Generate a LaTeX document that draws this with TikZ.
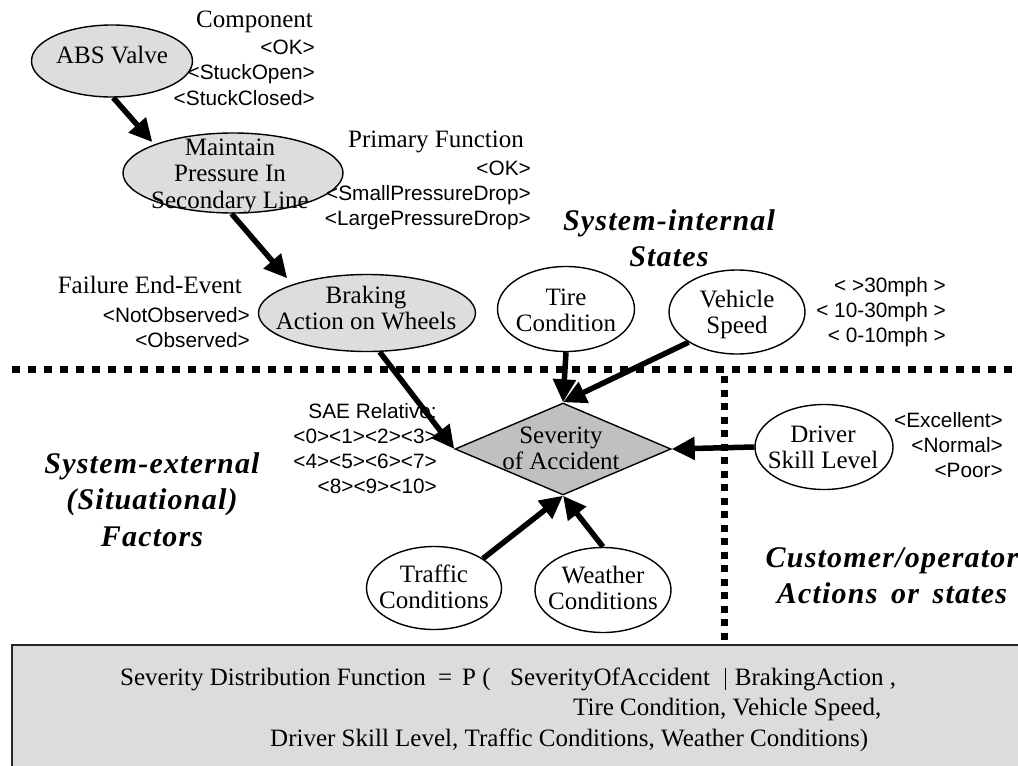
\documentclass[tikz,border=0pt]{standalone}
\usepackage{fontspec}
\setmainfont{Liberation Serif}
\setsansfont{Liberation Sans}
\newfontfamily\regionfont[LetterSpace=4]{Liberation Serif}
\usetikzlibrary{shapes.geometric,arrows.meta}

% multi-line text whose baseline is that of its first line
\newcommand{\linesblock}[2][c]{\begin{tabular}[t]{@{}#1@{}}#2\end{tabular}}

\definecolor{nodegray}{HTML}{DDDDDD}
\definecolor{diagray}{HTML}{C0C0C0}
\definecolor{boxgray}{HTML}{DCDCDC}

\tikzset{
  ell/.style={ellipse, draw, line width=1.4pt, inner sep=0pt},
  grayell/.style={ell, fill=nodegray},
  lbl/.style={font=\fontsize{25}{26.5}\selectfont, inner sep=0pt, anchor=base},
  hd/.style={font=\fontsize{25}{27}\selectfont, inner sep=0pt, anchor=base east},
  st/.style={font=\fontsize{20.8}{25.3}\selectfont\sffamily, inner sep=0pt, anchor=base east},
  region/.style={font=\fontsize{30}{36.5}\selectfont\regionfont\bfseries\itshape, inner sep=0pt, anchor=base},
  arr/.style={line width=5.5pt, -{Triangle[length=23pt,width=22pt]}},
  hsep/.style={line width=7pt, dash pattern=on 7.5pt off 8.5pt},
  vsep/.style={line width=7pt, dash pattern=on 7pt off 6.5pt},
}

\begin{document}
\begin{tikzpicture}[x=1pt,y=-1pt]
\useasboundingbox (0,0) rectangle (1018,766);

% bottom formula box
\fill[boxgray] (12,645) rectangle (1018,766);
\draw[line width=1.5pt, black!85] (1018,645) -- (12,645) -- (12,766);
\node[lbl, anchor=base west] (sdf1) at (120,685) {%
  \makebox[318pt][l]{Severity Distribution Function}%
  \makebox[24pt][l]{=}%
  \makebox[48pt][l]{P (}%
  \makebox[215pt][l]{SeverityOfAccident}%
  \rule[-5pt]{1.3pt}{22pt}\hspace{8.5pt}BrakingAction ,};
\node[lbl, anchor=base west] (sdf2) at (573,715) {Tire Condition, Vehicle Speed,};
\node[lbl, anchor=base west] (sdf3) at (270,746) {Driver Skill Level, Traffic Conditions, Weather Conditions)};

% region separators
\coordinate (hl) at (12,369);
\coordinate (hr) at (1018,369);
\coordinate (vt) at (724,376);
\coordinate (vb) at (724,645);
\draw[hsep] (hl) -- (hr);
\draw[vsep] (vt) -- (vb);

% region titles
\node[region] (intR) at (669,230) {\linesblock{System-internal\\States}};
\node[region] (extR) at (152,473) {\linesblock{System-external\\(Situational)\\Factors}};
\node[region] (custR) at (892,567) {\linesblock{Customer/operator\\Actions\hspace{5pt} or\hspace{5pt} states}};

% nodes
\node[grayell, minimum width=161pt, minimum height=72pt] (abs) at (112,61) {};
\node[grayell, minimum width=220pt, minimum height=80pt] (maint) at (233,173) {};
\node[grayell, minimum width=217pt, minimum height=77pt] (brak) at (367,313) {};
\node[ell, minimum width=137pt, minimum height=85pt] (tire) at (566,309) {};
\node[ell, minimum width=136pt, minimum height=84pt] (vehi) at (737,312) {};
\node[ell, minimum width=138pt, minimum height=85pt] (driv) at (824,447) {};
\node[ell, minimum width=135pt, minimum height=83pt] (traf) at (434,588) {};
\node[ell, minimum width=136pt, minimum height=85pt] (weat) at (603,590) {};
\node[diamond, draw, fill=diagray, line width=1.4pt, inner sep=0pt,
      minimum width=216pt, minimum height=92pt] (sev) at (563,449) {};

% node texts
\node[lbl] (absT) at (112,63) {ABS Valve};
\node[lbl] (maintT) at (230,155) {\linesblock{Maintain\\Pressure In\\Secondary Line}};
\node[lbl] (brakT) at (366,303) {\linesblock{Braking\\Action on Wheels}};
\node[lbl] (tireT) at (566,305) {\linesblock{Tire\\Condition}};
\node[lbl] (vehiT) at (737,307) {\linesblock{Vehicle\\Speed}};
\node[lbl] (drivT) at (823,442) {\linesblock{Driver\\Skill Level}};
\node[lbl] (trafT) at (434,582) {\linesblock{Traffic\\Conditions}};
\node[lbl] (weatT) at (603,583) {\linesblock{Weather\\Conditions}};
\node[lbl] (sevT) at (561,443) {\linesblock{Severity\\of Accident}};

% state lists
\node[hd] (compH) at (313,27) {Component};
\node[st] (compS) at (315,54.5) {\linesblock[r]{<OK>\\<StuckOpen>\\<StuckClosed>}};
\node[hd] (primH) at (524,147) {Primary Function};
\node[st] (primS) at (531,175) {\linesblock[r]{<OK>\\<SmallPressureDrop>\\<LargePressureDrop>}};
\node[hd] (failH) at (242,293) {Failure End-Event};
\node[st] (failS) at (250,322) {\linesblock[r]{<NotObserved>\\<Observed>}};
\node[st] (vehiS) at (946,292) {\linesblock[r]{< >30mph >\\< 10-30mph >\\< 0-10mph >}};
\node[st] (saeS) at (437,418) {\linesblock[r]{SAE Relative:\\<0><1><2><3>\\<4><5><6><7>\\<8><9><10>}};
\node[st] (drivS) at (1003,427) {\linesblock[r]{<Excellent>\\<Normal>\\<Poor>}};

% influences
\draw[arr, shorten >=3pt] (abs.272) -- (maint.160);
\draw[arr, shorten >=8pt] (maint.268) -- (brak.159);
\draw[arr] (brak.288) -- (sev.west);
\draw[arr] (tire.south) -- (sev.north);
\draw[arr] (vehi.212) -- (sev.north);
\draw[arr] (driv.west) -- (sev.east);
\draw[arr] (traf.31) -- (sev.south);
\draw[arr] (weat.north) -- (sev.south);
\end{tikzpicture}
\end{document}
